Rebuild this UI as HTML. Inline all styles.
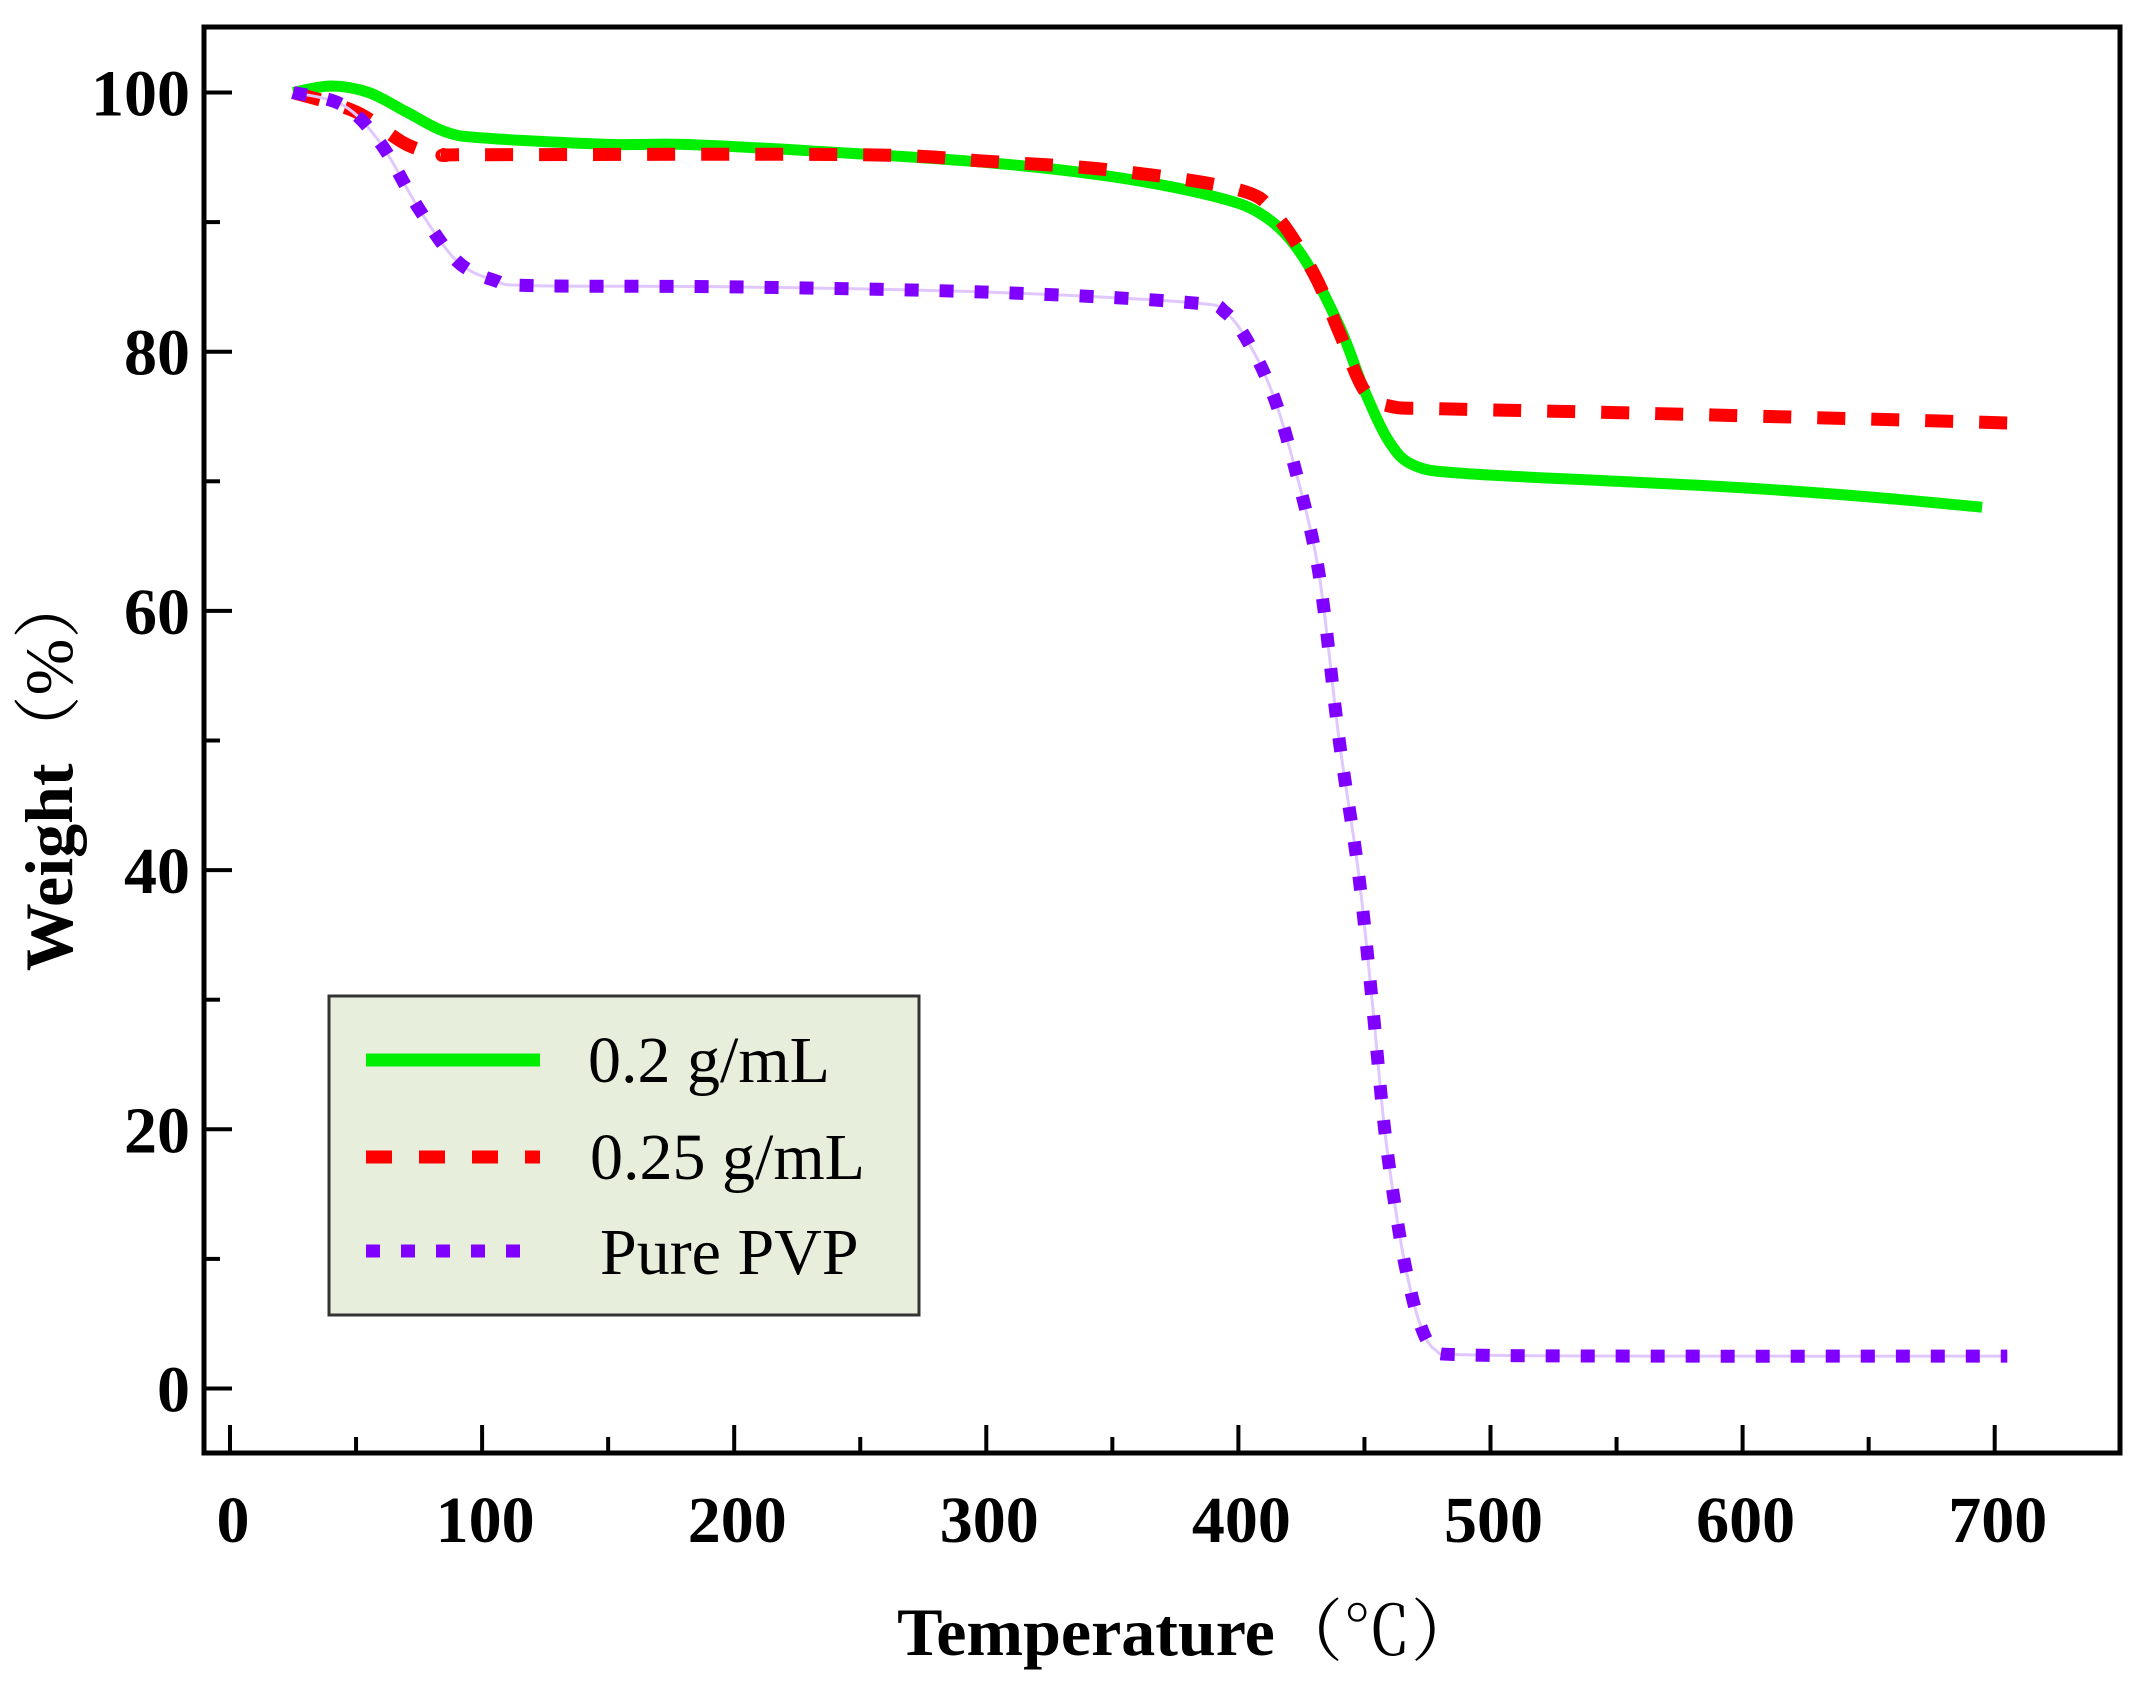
<!DOCTYPE html>
<html><head><meta charset="utf-8"><style>
html,body{margin:0;padding:0;background:#fff;}
svg{display:block;}
text{font-family:"Liberation Serif","Noto Serif CJK SC",serif;}
</style></head><body>
<svg id="s" width="2150" height="1688" viewBox="0 0 2150 1688" xmlns="http://www.w3.org/2000/svg">
<rect x="204" y="27" width="1916" height="1426" fill="none" stroke="#000" stroke-width="5"/>
<g id="ticks" stroke="#000" stroke-width="4"></g>
<g id="labels" font-size="66" font-weight="bold" fill="#000"></g>
<text x="1188" y="1655" font-size="68" text-anchor="middle"><tspan font-weight="bold">Temperature</tspan><tspan>（℃）</tspan></text>
<text transform="translate(72,771) rotate(-90)" font-size="68" text-anchor="middle"><tspan font-weight="bold">Weight</tspan><tspan>（%）</tspan></text>
<g id="curves" fill="none"></g>
<rect x="329" y="996" width="590" height="319" fill="#e8eedc" stroke="#333" stroke-width="3"/>
<line x1="366" y1="1060" x2="540" y2="1060" stroke="#00ee00" stroke-width="13"/>
<line x1="366" y1="1157" x2="540" y2="1157" stroke="#ff0000" stroke-width="13" stroke-dasharray="26 27"/>
<line x1="366" y1="1251" x2="540" y2="1251" stroke="#8000ff" stroke-width="13" stroke-dasharray="14 21"/>
<text x="588" y="1082" font-size="66">0.2 g/mL</text>
<text x="590" y="1179" font-size="66">0.25 g/mL</text>
<text x="600" y="1274" font-size="66">Pure PVP</text>
</svg>
<script>
var X=function(t){return 230+t*2.521;}, Y=function(w){return 1388.5-w*12.96;};
var NS="http://www.w3.org/2000/svg";
function el(p,n,a,txt){var e=document.createElementNS(NS,n);for(var k in a)e.setAttribute(k,a[k]);if(txt!==undefined)e.textContent=txt;document.getElementById(p).appendChild(e);return e;}
for(var t=0;t<=700;t+=50){var L=(t%100==0)?28:16;el("ticks","line",{x1:X(t),x2:X(t),y1:1453,y2:1453-L});
 if(t%100==0)el("labels","text",{x:X(t)+3,y:1542,"text-anchor":"middle"},t);}
for(var w=0;w<=100;w+=10){var L=(w%20==0)?28:16;el("ticks","line",{x1:204,x2:204+L,y1:Y(w),y2:Y(w)});
 if(w%20==0)el("labels","text",{x:190,y:Y(w)+23,"text-anchor":"end"},w);}
function path(d){var p=d.map(function(q){return [X(q[0]),Y(q[1])];});var s="M"+p[0][0]+","+p[0][1];
 for(var i=0;i<p.length-1;i++){var p0=p[i-1]||p[i],p1=p[i],p2=p[i+1],p3=p[i+2]||p2;
 s+=" C"+(p1[0]+(p2[0]-p0[0])/6)+","+(p1[1]+(p2[1]-p0[1])/6)+" "+(p2[0]-(p3[0]-p1[0])/6)+","+(p2[1]-(p3[1]-p1[1])/6)+" "+p2[0]+","+p2[1];}
 return s;}
var g=[[25,100],[40,100.5],[55,100],[70,98.5],[85,97],[100,96.5],[150,96],[180,96],[230,95.5],[300,94.6],[350,93.5],[390,92],[410,90.5],[425,87.5],[440,82],[450,77],[460,73],[470,71.2],[490,70.6],[550,70],[600,69.5],[650,68.8],[695,68]];
var r=[[25,100],[50,98.5],[70,96],[85,95.2],[100,95.2],[250,95.2],[300,94.7],[350,94],[400,92.5],[415,90.5],[430,86],[440,81.5],[450,77],[460,75.8],[480,75.6],[550,75.3],[650,74.8],[705,74.5]];
var p=[[25,100],[45,99],[60,96],[75,91],[90,87],[105,85.5],[120,85.1],[200,85],[300,84.6],[380,83.8],[395,83],[406,80],[415,76],[423,70.6],[430,65],[434,60],[440,50],[447.5,40],[453,30],[458,20],[463,13],[467,8.7],[472,5],[478,3],[490,2.6],[560,2.5],[705,2.5]];
el("curves","path",{d:path(g),stroke:"#00ee00","stroke-width":11});
el("curves","path",{d:path(r),stroke:"#ff0000","stroke-width":13,"stroke-dasharray":"28 26"});
el("curves","path",{d:path(p),stroke:"#e0c8ff","stroke-width":3});
el("curves","path",{d:path(p),stroke:"#8000ff","stroke-width":13,"stroke-dasharray":"14 21"});
</script>
</body></html>
